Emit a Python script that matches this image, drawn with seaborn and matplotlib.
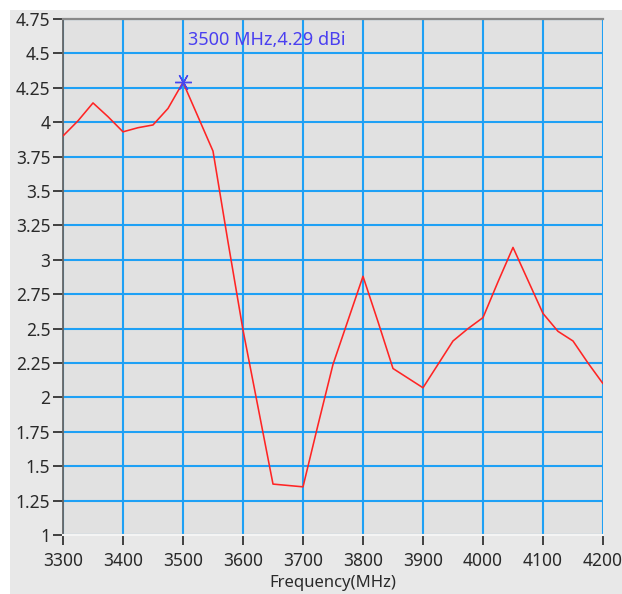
import matplotlib
matplotlib.use("Agg")
import matplotlib.pyplot as plt
from matplotlib.patches import Rectangle
import seaborn as sns
import pandas as pd

# Gain sweep across the band (MHz, dBi)
freq_mhz = [3300, 3325, 3350, 3375, 3400, 3425, 3450, 3475, 3500, 3525,
            3550, 3575, 3600, 3625, 3650, 3675, 3700, 3725, 3750, 3775,
            3800, 3825, 3850, 3875, 3900, 3925, 3950, 3975, 4000, 4025,
            4050, 4075, 4100, 4125, 4150, 4175, 4200]
gain_dbi = [3.90, 4.01, 4.14, 4.04, 3.93, 3.96, 3.98, 4.10, 4.29, 4.04,
            3.79, 3.13, 2.49, 1.93, 1.37, 1.36, 1.35, 1.80, 2.24, 2.56,
            2.88, 2.55, 2.21, 2.14, 2.07, 2.24, 2.41, 2.50, 2.58, 2.84,
            3.09, 2.85, 2.61, 2.48, 2.41, 2.25, 2.10]

peak_freq = 3500
peak_gain = 4.29

x_ticks = [3300, 3400, 3500, 3600, 3700, 3800, 3900, 4000, 4100, 4200]
y_ticks = [1, 1.25, 1.5, 1.75, 2, 2.25, 2.5, 2.75, 3, 3.25, 3.5, 3.75, 4, 4.25, 4.5, 4.75]
y_labels = ["1", "1.25", "1.5", "1.75", "2", "2.25", "2.5", "2.75", "3",
            "3.25", "3.5", "3.75", "4", "4.25", "4.5", "4.75"]

sns.set_style("white")
plt.rcParams["font.family"] = ["Noto Sans", "DejaVu Sans"]

W, H = 622, 594
fig = plt.figure(figsize=(W / 100, H / 100), dpi=100, facecolor="white")
# panel background behind the axes
fig.patches.append(Rectangle((10 / W, 0), 1 - 10 / W, 1 - 10 / H,
                             transform=fig.transFigure, facecolor="#e8e8e8",
                             edgecolor="none", zorder=-10))

ax = fig.add_axes([63 / W, 1 - 535 / H, (603 - 63) / W, (535 - 19) / H])
ax.set_zorder(1)
ax.set_facecolor("#e1e1e1")

df = pd.DataFrame({"Frequency(MHz)": freq_mhz, "Gain": gain_dbi})
sns.lineplot(data=df, x="Frequency(MHz)", y="Gain", ax=ax,
             color="#ff2424", linewidth=1.15, zorder=3)

ax.plot([peak_freq], [peak_gain], marker=(6, 2, 90), markersize=12,
        color="#4646f0", markeredgewidth=1.0, linestyle="none", zorder=4)
ax.text(peak_freq + 8, 4.60, f"{peak_freq} MHz,{peak_gain} dBi",
        color="#4a3ff0", fontsize=13, ha="left", va="center", zorder=5)

ax.set_xlim(3300, 4200)
ax.set_ylim(1, 4.75)
ax.set_xticks(x_ticks)
ax.set_xticklabels([str(v) for v in x_ticks])
ax.set_yticks(y_ticks)
ax.set_yticklabels(y_labels)

ax.grid(True, color="#1ea0f5", linewidth=1.5, zorder=1)
ax.set_axisbelow(True)

ax.tick_params(axis="both", which="major", direction="out", length=7,
               width=1.3, color="#333333", labelsize=12.5, labelcolor="#2a2a2a",
               left=True, bottom=True)
ax.tick_params(axis="y", pad=2)
ax.tick_params(axis="x", pad=5)

ax.set_xlabel("Frequency(MHz)", fontsize=12, color="#2a2a2a", labelpad=3.5)
ax.set_ylabel("")

ax.spines["left"].set_color("#666666")
ax.spines["left"].set_linewidth(1.3)
ax.spines["top"].set_color("#8a8a8a")
ax.spines["top"].set_linewidth(1.6)
ax.spines["right"].set_visible(False)
ax.spines["bottom"].set_color("#f4f4f4")
ax.spines["bottom"].set_linewidth(1.5)

fig.savefig("out.png", dpi=100, facecolor="white")
